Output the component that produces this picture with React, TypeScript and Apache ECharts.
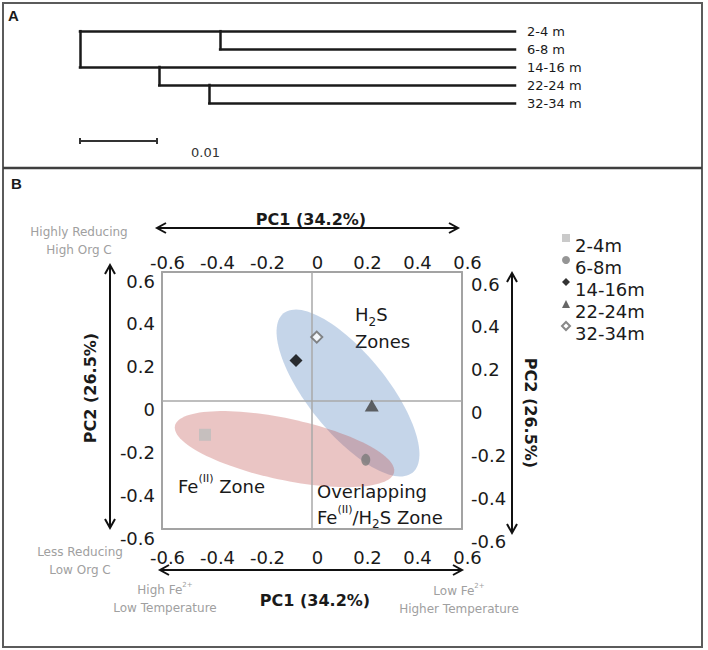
import React, { useEffect, useRef } from "react";
import * as echarts from "echarts";

// ---------- Panel A: dendrogram ----------
const leafLabels = ["2-4 m", "6-8 m", "14-16 m", "22-24 m", "32-34 m"];
// distance from root at which each leaf's branch starts
const leafJoin = [0, 0.0182, 0, 0.0103, 0.0168];
// internal nodes: height and the two leaf rows they connect
const nodeHeights = [0, 0.0182, 0.0103, 0.0168];
const nodeSpans = [
  [0, 2],
  [0, 1],
  [2, 3],
  [3, 4],
];
const treeDepth = 0.0565;
const scaleBarLength = 0.01;
const scaleBarLabel = "0.01";
const scaleBarRow = 6.11;

// ---------- Panel B: PCA ----------
const sampleNames = ["2-4m", "6-8m", "14-16m", "22-24m", "32-34m"];
const pc1 = [-0.428, 0.215, -0.064, 0.239, 0.019];
const pc2 = [-0.16, -0.277, 0.187, -0.023, 0.296];
const axisMin = -0.6;
const axisMax = 0.6;
const axisStep = 0.2;

// zone ellipses: centre (pc1, pc2), semi-axes (in PC1 units), tilt (deg, screen)
const zoneNames = ["H2S Zones", "Fe(II) Zone"];
const zoneCx = [0.144, -0.11];
const zoneCy = [0.035, -0.227];
const zoneA = [0.41, 0.448];
const zoneB = [0.158, 0.123];
const zoneTilt = [51, 12];
const zoneColors = ["rgba(79,129,189,0.33)", "rgba(192,80,77,0.33)"];

const FONT = "DejaVu Sans";

function hArrow(x1: number, x2: number, y: number) {
  const st = { stroke: "#111", lineWidth: 2, fill: "none" };
  return [
    { type: "line", shape: { x1, y1: y, x2, y2: y }, style: st, silent: true },
    { type: "polyline", shape: { points: [[x1 + 9, y - 5], [x1, y], [x1 + 9, y + 5]] }, style: st, silent: true },
    { type: "polyline", shape: { points: [[x2 - 9, y - 5], [x2, y], [x2 - 9, y + 5]] }, style: st, silent: true },
  ];
}
function vArrow(x: number, y1: number, y2: number) {
  const st = { stroke: "#111", lineWidth: 2, fill: "none" };
  return [
    { type: "line", shape: { x1: x, y1, x2: x, y2 }, style: st, silent: true },
    { type: "polyline", shape: { points: [[x - 5, y1 + 9], [x, y1], [x + 5, y1 + 9]] }, style: st, silent: true },
    { type: "polyline", shape: { points: [[x - 5, y2 - 9], [x, y2], [x + 5, y2 - 9]] }, style: st, silent: true },
  ];
}
function txt(x: number, y: number, text: string, opts: any = {}) {
  const { rotation, ...style } = opts;
  return {
    type: "text",
    x,
    y,
    rotation: rotation || 0,
    silent: true,
    style: {
      text,
      fontFamily: FONT,
      fontSize: 12,
      fill: "#1a1a1a",
      align: "center",
      verticalAlign: "middle",
      ...style,
    },
  };
}

const grayRich = {
  g: { fontFamily: FONT, fontSize: 12, fill: "#a0a0a0", color: "#a0a0a0", lineHeight: 18 },
  sup: { fontFamily: FONT, fontSize: 7, fill: "#a0a0a0", color: "#a0a0a0", lineHeight: 8, verticalAlign: "top" },
};
const zoneRich = (lh: number) => ({
  n: { fontFamily: FONT, fontSize: 18, fill: "#1a1a1a", color: "#1a1a1a", lineHeight: lh },
  s: { fontFamily: FONT, fontSize: 12, fill: "#1a1a1a", color: "#1a1a1a", lineHeight: 12, verticalAlign: "bottom" },
  p: { fontFamily: FONT, fontSize: 11, fill: "#1a1a1a", color: "#1a1a1a", lineHeight: 11, verticalAlign: "top" },
});

export default function App() {
  const ref = useRef<HTMLDivElement>(null);

  useEffect(() => {
    if (!ref.current) return;
    const chart = echarts.init(ref.current, undefined, { renderer: "svg" });

    // dendrogram segments
    const treeLines: any[] = [];
    leafLabels.forEach((_, i) => {
      treeLines.push({ coords: [[leafJoin[i], i], [treeDepth, i]] });
    });
    nodeHeights.forEach((h, k) => {
      treeLines.push({ coords: [[h, nodeSpans[k][0]], [h, nodeSpans[k][1]]] });
    });
    const scaleLines = [
      { coords: [[0, scaleBarRow], [scaleBarLength, scaleBarRow]] },
      { coords: [[0, scaleBarRow - 0.17], [0, scaleBarRow + 0.17]] },
      { coords: [[scaleBarLength, scaleBarRow - 0.17], [scaleBarLength, scaleBarRow + 0.17]] },
    ];

    const fmt = (v: number) => String(Math.round(v * 10) / 10);
    const tickLabel = {
      fontSize: 18,
      fontFamily: FONT,
      color: "#1a1a1a",
      formatter: fmt,
      showMinLabel: true,
      showMaxLabel: true,
    };
    const boxLine = { show: true, onZero: false, lineStyle: { color: "#a3a3a3", width: 2 } };

    const symbols = ["rect", "circle", "diamond", "triangle", "diamond"];
    const sizes: any[] = [12, [9, 12], 13, [14, 12], 11];
    const styles: any[] = [
      { color: "#bdbdbd" },
      { color: "#7a7a7a" },
      { color: "#000000" },
      { color: "#404040" },
      { color: "#ffffff", borderColor: "#6a6a6a", borderWidth: 2 },
    ];

    const scatterSeries = sampleNames.map((name, i) => ({
      type: "scatter",
      name,
      xAxisIndex: 1,
      yAxisIndex: 1,
      symbol: symbols[i],
      symbolSize: sizes[i],
      itemStyle: styles[i],
      data: [[pc1[i], pc2[i]]],
      z: 5,
      ...(i === 0
        ? {
            markLine: {
              silent: true,
              symbol: "none",
              label: { show: false },
              lineStyle: { color: "#a8a8a8", width: 1.5, type: "solid" },
              data: [{ xAxis: 0 }, { yAxis: 0 }],
            },
          }
        : {}),
    }));

    const ellipseData = zoneNames.map((name, i) => ({
      name,
      value: [zoneCx[i], zoneCy[i], zoneA[i], zoneB[i], zoneTilt[i], i],
    }));

    const graphics: any[] = [
      { type: "rect", shape: { x: 3, y: 3, width: 699, height: 644 }, style: { fill: "none", stroke: "#5b5b5b", lineWidth: 2 }, silent: true },
      { type: "line", shape: { x1: 3, y1: 168, x2: 702, y2: 168 }, style: { stroke: "#3f3f3f", lineWidth: 2.5 }, silent: true },
      txt(8, 15, "A", { fontFamily: "Liberation Sans", fontWeight: "bold", fontSize: 15, align: "left" }),
      txt(11, 183, "B", { fontFamily: "Liberation Sans", fontWeight: "bold", fontSize: 15, align: "left" }),
      txt(191, 152, scaleBarLabel, { fontSize: 13, align: "left", fill: "#333" }),
      ...hArrow(157, 458, 228),
      ...hArrow(160, 462, 570),
      ...vArrow(110, 265, 528),
      ...vArrow(512, 273, 533),
      txt(311, 219, "PC1 (34.2%)", { fontWeight: "bold", fontSize: 16 }),
      txt(315, 600, "PC1 (34.2%)", { fontWeight: "bold", fontSize: 16 }),
      txt(90, 388, "PC2 (26.5%)", { fontWeight: "bold", fontSize: 16, rotation: Math.PI / 2 }),
      txt(530, 413, "PC2 (26.5%)", { fontWeight: "bold", fontSize: 16, rotation: -Math.PI / 2 }),
      txt(79, 241, "{g|Highly Reducing}\n{g|High Org C}", { rich: grayRich }),
      txt(80, 561, "{g|Less Reducing}\n{g|Low Org C}", { rich: grayRich }),
      txt(165, 599, "{g|High Fe}{sup|2+}\n{g|Low Temperature}", { rich: grayRich }),
      txt(459, 600, "{g|Low Fe}{sup|2+}\n{g|Higher Temperature}", { rich: grayRich }),
      txt(355, 328, "{n|H}{s|2}{n|S}\n{n|Zones}", { align: "left", rich: zoneRich(27) }),
      txt(178, 486, "{n|Fe}{p|(II)}{n| Zone}", { align: "left", rich: zoneRich(26) }),
      txt(317, 504, "{n|Overlapping}\n{n|Fe}{p|(II)}{n|/H}{s|2}{n|S Zone}", { align: "left", rich: zoneRich(26) }),
    ];

    const option: any = {
      animation: false,
      backgroundColor: "#ffffff",
      grid: [
        { left: 80, top: 31, width: 435, height: 126 },
        { left: 162, top: 272, width: 300, height: 257 },
      ],
      xAxis: [
        { gridIndex: 0, type: "value", min: 0, max: treeDepth, show: false },
        {
          gridIndex: 1,
          type: "value",
          min: axisMin,
          max: axisMax,
          interval: axisStep,
          position: "bottom",
          axisLine: boxLine,
          axisTick: { show: false },
          splitLine: { show: false },
          axisLabel: { ...tickLabel, margin: 19, padding: [0, 0, 0, 11] },
        },
        {
          gridIndex: 1,
          type: "value",
          min: axisMin,
          max: axisMax,
          interval: axisStep,
          position: "top",
          axisLine: boxLine,
          axisTick: { show: false },
          splitLine: { show: false },
          axisLabel: { ...tickLabel, margin: 1, padding: [0, 0, 0, 11] },
        },
      ],
      yAxis: [
        {
          gridIndex: 0,
          type: "value",
          inverse: true,
          min: 0,
          max: 7,
          interval: 1,
          position: "right",
          axisLine: { show: false },
          axisTick: { show: false },
          splitLine: { show: false },
          axisLabel: {
            margin: 12,
            fontSize: 13,
            fontFamily: FONT,
            color: "#1a1a1a",
            formatter: (v: number) => leafLabels[v] ?? "",
          },
        },
        {
          gridIndex: 1,
          type: "value",
          min: axisMin,
          max: axisMax,
          interval: axisStep,
          position: "left",
          axisLine: boxLine,
          axisTick: { show: false },
          splitLine: { show: false },
          axisLabel: { ...tickLabel, margin: 7, verticalAlign: "top" },
        },
        {
          gridIndex: 1,
          type: "value",
          min: axisMin,
          max: axisMax,
          interval: axisStep,
          position: "right",
          axisLine: boxLine,
          axisTick: { show: false },
          splitLine: { show: false },
          axisLabel: { ...tickLabel, margin: 9, verticalAlign: "top", padding: [3, 0, 0, 0] },
        },
      ],
      legend: {
        orient: "vertical",
        left: 561,
        top: 222,
        padding: 0,
        itemGap: -10,
        itemWidth: 8,
        itemHeight: 8,
        selectedMode: false,
        data: sampleNames,
        formatter: "{t|{name}}",
        textStyle: {
          fontSize: 18,
          fontFamily: FONT,
          color: "#1a1a1a",
          rich: {
            t: { fontSize: 18, fontFamily: FONT, color: "#1a1a1a", lineHeight: 8, padding: [14, 0, 0, 0] },
          },
        },
      },
      series: [
        {
          type: "lines",
          coordinateSystem: "cartesian2d",
          xAxisIndex: 0,
          yAxisIndex: 0,
          silent: true,
          lineStyle: { color: "#1a1a1a", width: 2.5, cap: "square", opacity: 1 },
          data: treeLines,
        },
        {
          type: "lines",
          coordinateSystem: "cartesian2d",
          xAxisIndex: 0,
          yAxisIndex: 0,
          silent: true,
          lineStyle: { color: "#333", width: 2, opacity: 1 },
          data: scaleLines,
        },
        {
          type: "custom",
          name: "zones",
          xAxisIndex: 1,
          yAxisIndex: 1,
          silent: true,
          z: 1,
          encode: { x: 0, y: 1 },
          data: ellipseData,
          renderItem: (params: any, api: any) => {
            const cx = api.value(0);
            const cy = api.value(1);
            const a = api.value(2);
            const b = api.value(3);
            const tilt = (api.value(4) * Math.PI) / 180;
            const idx = api.value(5);
            const c = api.coord([cx, cy]);
            const px = api.size([1, 0])[0];
            const A = a * px;
            const B = b * px;
            const pts: number[][] = [];
            for (let k = 0; k < 120; k++) {
              const t = (k / 120) * Math.PI * 2;
              const u = A * Math.cos(t);
              const w = B * Math.sin(t);
              pts.push([
                c[0] + u * Math.cos(tilt) - w * Math.sin(tilt),
                c[1] + u * Math.sin(tilt) + w * Math.cos(tilt),
              ]);
            }
            return {
              type: "polygon",
              shape: { points: pts },
              style: { fill: zoneColors[idx], stroke: "none" },
            };
          },
        },
        ...scatterSeries,
      ],
      graphic: graphics,
    };

    chart.setOption(option);
    return () => chart.dispose();
  }, []);

  return (
    <div
      ref={ref}
      style={{ position: "absolute", left: 0, top: 0, width: 708, height: 650, background: "#fff" }}
    />
  );
}
